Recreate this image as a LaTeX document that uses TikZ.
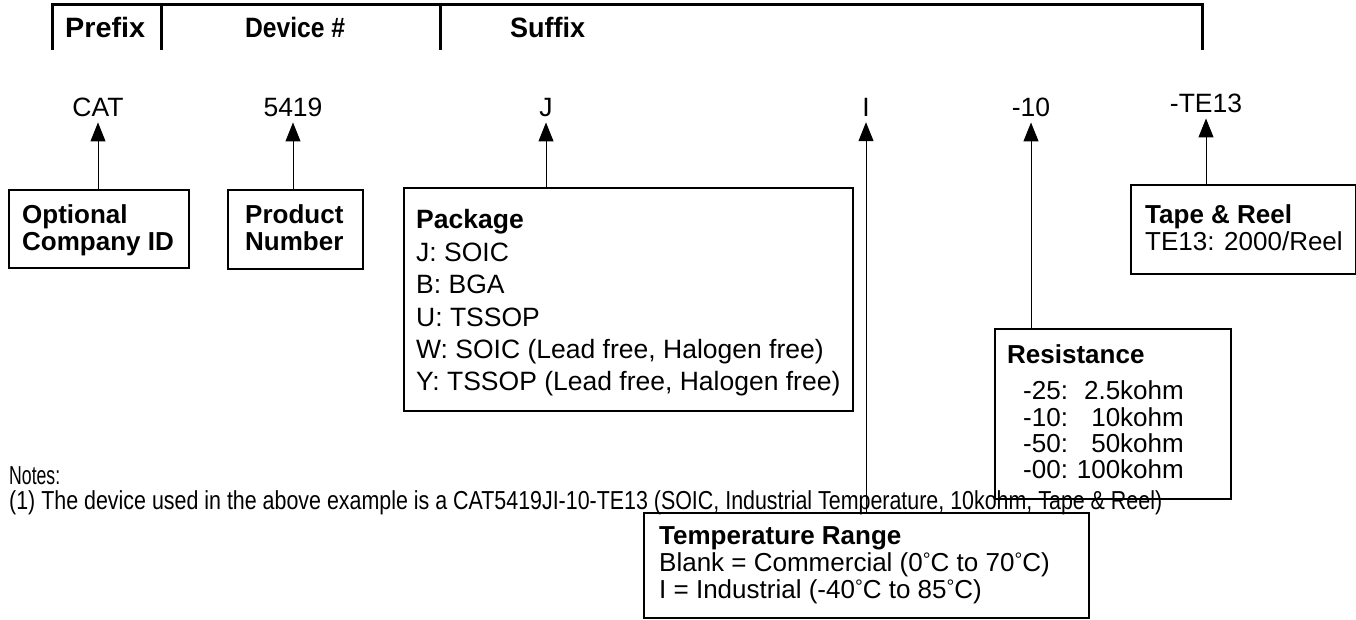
\documentclass[tikz,border=0pt]{standalone}
\usepackage{fontspec}
\usepackage{graphicx}
\setmainfont{Liberation Sans}
\usetikzlibrary{arrows.meta}
\newcommand{\degr}{\raisebox{0.17em}{\scalebox{0.75}{°}}}
\begin{document}
\begin{tikzpicture}[x=1pt,y=-1pt,
  txt/.style={inner sep=0pt, anchor=base west, font=\fontsize{26}{28}\selectfont},
  btxt/.style={inner sep=0pt, anchor=base west, font=\fontsize{26}{28}\selectfont\bfseries},
  lbl/.style={inner sep=0pt, anchor=base, font=\fontsize{26.5}{28}\selectfont},
  hdr/.style={inner sep=0pt, anchor=base west, font=\fontsize{25}{28}\selectfont\bfseries},
  box/.style={draw, line width=2pt, rectangle, inner sep=0pt, anchor=north west},
  conn/.style={line width=1pt, -{Triangle[width=15pt,length=19pt]}},
  frame/.style={line width=3pt}
]
\useasboundingbox (0,0) rectangle (1356,619);

% header
\draw[frame] (52,50) -- (52,4) -- (1202,4) -- (1202,50);
\draw[frame] (161,4) -- (161,50);
\draw[frame] (440,4) -- (440,50);
\node[hdr] (hprefix) at (65,37) {\resizebox{80pt}{\height}{\scalebox{1}[1.12]{Prefix}}};
\node[hdr] (hdevice) at (245,37) {\resizebox{100pt}{\height}{\scalebox{1}[1.12]{Device \#}}};
\node[hdr] (hsuffix) at (510,37) {\resizebox{75pt}{\height}{\scalebox{1}[1.12]{Suffix}}};

% part labels
\node[lbl] (cat) at (98,116) {CAT};
\node[lbl] (num) at (293,116) {5419};
\node[lbl] (pkg) at (546,116) {J};
\node[lbl] (tmp) at (866,116) {I};
\node[lbl] (res) at (1031,116) {-10};
\node[lbl] (tr) at (1206,112) {-TE13};

% boxes
\node[box, minimum width=180pt, minimum height=78pt] (optbox) at (8,189) {};
\node[box, minimum width=135pt, minimum height=79pt] (numbox) at (227,189) {};
\node[box, minimum width=449pt, minimum height=223pt] (pkgbox) at (403,187) {};
\node[box, minimum width=225pt, minimum height=89pt] (trbox) at (1130,184) {};
\node[box, minimum width=236pt, minimum height=170pt] (resbox) at (994,328) {};
\node[box, minimum width=445pt, minimum height=105pt] (tmpbox) at (643,512) {};

% box texts
\node[btxt] (opt1) at (22,223) {Optional};
\node[btxt] (opt2) at (22,250) {Company ID};
\node[btxt] (num1) at (245,223) {Product};
\node[btxt] (num2) at (245,250) {Number};

\node[btxt, font=\fontsize{26.5}{28}\selectfont\bfseries] (pk0) at (416,228) {Package};
\node[txt, font=\fontsize{26.5}{28}\selectfont] (pk1) at (416,261) {J: SOIC};
\node[txt, font=\fontsize{26.5}{28}\selectfont] (pk2) at (416,293) {B: BGA};
\node[txt, font=\fontsize{26.5}{28}\selectfont] (pk3) at (416,326) {U: TSSOP};
\node[txt, font=\fontsize{26.5}{28}\selectfont] (pk4) at (416,358) {W: SOIC (Lead free, Halogen free)};
\node[txt, font=\fontsize{26.5}{28}\selectfont] (pk5) at (416,390) {Y: TSSOP (Lead free, Halogen free)};

\node[btxt] (tr0) at (1145,223) {Tape \& Reel};
\node[txt] (tr1) at (1145,250) {TE13: 2000/Reel};

\node[btxt] (rs0) at (1007,363) {Resistance};
\node[txt] (rs1) at (1023,399) {-25:};
\node[txt] (rs2) at (1023,426) {-10:};
\node[txt] (rs3) at (1023,452) {-50:};
\node[txt] (rs4) at (1023,478) {-00:};
\node[txt, anchor=base east] (rv1) at (1184,399) {2.5kohm};
\node[txt, anchor=base east] (rv2) at (1184,426) {10kohm};
\node[txt, anchor=base east] (rv3) at (1184,452) {50kohm};
\node[txt, anchor=base east] (rv4) at (1184,478) {100kohm};

\node[btxt] (tp0) at (659,544) {Temperature Range};
\node[txt] (tp1) at (659,571) {Blank = Commercial (0\degr C to 70\degr C)};
\node[txt] (tp2) at (659,598) {I = Industrial (-40\degr C to 85\degr C)};

% notes
\node[inner sep=0pt, anchor=base west] (notes) at (9,484)
  {\resizebox{51pt}{\height}{\fontsize{26}{28}\selectfont Notes:}};
\node[inner sep=0pt, anchor=base west] (note1) at (9,509)
  {\resizebox{1153pt}{\height}{\fontsize{26}{28}\selectfont (1) The device used in the above example is a CAT5419JI-10-TE13 (SOIC, Industrial Temperature, 10kohm, Tape \& Reel)}};

% connectors
\draw[conn] (cat |- optbox.north) -- ([yshift=-6pt]cat.south);
\draw[conn] (num |- numbox.north) -- ([yshift=-6pt]num.south);
\draw[conn] (pkg |- pkgbox.north) -- ([yshift=-6pt]pkg.south);
\draw[conn] (tmp |- tmpbox.north) -- ([yshift=-6pt]tmp.south);
\draw[conn] (res |- resbox.north) -- ([yshift=-6pt]res.south);
\draw[conn] (tr |- trbox.north) -- ([yshift=-6pt]tr.south);
\end{tikzpicture}
\end{document}
